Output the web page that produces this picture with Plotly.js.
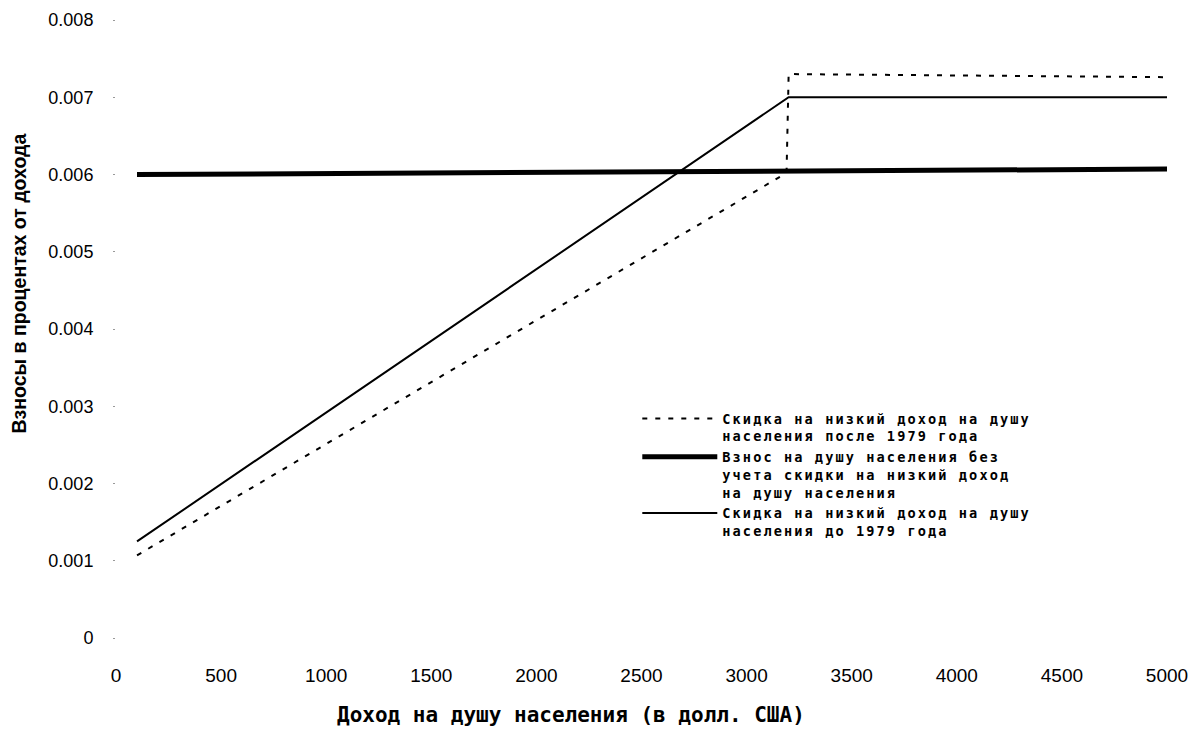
<!DOCTYPE html>
<html><head><meta charset="utf-8">
<script src="https://cdn.plot.ly/plotly-3.0.1.min.js"></script>
<style>
body{margin:0;background:#fff}
#chart{width:1204px;height:744px}
.legendtext{letter-spacing:2.1px}
</style>
</head><body><div id="chart"></div>
<script>
// Data
const incomePost1979 = [100, 3190, 3200, 5000];
const ratePost1979 = [0.00107, 0.00602, 0.0073, 0.00726];
const incomeFlat = [100, 5000];
const rateFlat = [0.0060, 0.00607];
const incomePre1979 = [100, 3200, 5000];
const ratePre1979 = [0.00125, 0.0070, 0.0070];

const yTickValues = [0, 0.001, 0.002, 0.003, 0.004, 0.005, 0.006, 0.007, 0.008];
const yTickLabels = ['0', '0.001', '0.002', '0.003', '0.004', '0.005', '0.006', '0.007', '0.008'];
const xTickValues = [0, 500, 1000, 1500, 2000, 2500, 3000, 3500, 4000, 4500, 5000];
const xTickLabels = ['0', '500', '1000', '1500', '2000', '2500', '3000', '3500', '4000', '4500', '5000'];

const seriesNames = [
  'Скидка на низкий доход на душу<br>населения после 1979 года',
  'Взнос на душу населения без<br>учета скидки на низкий доход<br>на душу населения',
  'Скидка на низкий доход на душу<br>населения до 1979 года'
];
const xTitle = 'Доход на душу населения (в долл. США)';
const yTitle = 'Взносы в процентах от дохода';

const traces = [
  {x: incomePost1979, y: ratePost1979, name: seriesNames[0], mode: 'lines',
   line: {color: '#000', width: 2, dash: '5px,8px'}},
  {x: incomeFlat, y: rateFlat, name: seriesNames[1], mode: 'lines',
   line: {color: '#000', width: 5}},
  {x: incomePre1979, y: ratePre1979, name: seriesNames[2], mode: 'lines',
   line: {color: '#000', width: 2}},
  {x: [0, 5000], y: [0, 0], yaxis: 'y2', mode: 'lines', showlegend: false, hoverinfo: 'skip',
   line: {color: 'rgba(0,0,0,0)', width: 0}}
];

const layout = {
  width: 1204, height: 744,
  margin: {l: 116, r: 37, t: 20, b: 106},
  paper_bgcolor: '#fff', plot_bgcolor: '#fff',
  font: {family: 'Liberation Sans, Arial, sans-serif', color: '#000'},
  xaxis: {
    range: [0, 5000], tickvals: xTickValues, ticktext: xTickLabels,
    showgrid: false, zeroline: false, showline: false,
    ticks: 'outside', ticklen: 20, tickcolor: 'rgba(0,0,0,0)',
    tickfont: {size: 19, family: 'Liberation Sans, Arial, sans-serif'}
  },
  yaxis: {
    range: [0, 0.008], tickvals: yTickValues, ticktext: yTickLabels,
    showgrid: false, zeroline: false, showline: false,
    ticks: 'outside', ticklen: 2, tickcolor: '#999', tickwidth: 1,
    ticklabelstandoff: 16,
    tickfont: {size: 18, family: 'Liberation Sans, Arial, sans-serif'}
  },
  yaxis2: {
    overlaying: 'y', range: [0, 0.008], tickvals: [0, 0.008], showticklabels: false,
    showgrid: true, gridcolor: '#bbb', griddash: 'dot', gridwidth: 1, zeroline: false
  },
  showlegend: true,
  legend: {
    x: 0.496, y: 0.38, xanchor: 'left', yanchor: 'top',
    bgcolor: 'rgba(255,255,255,0)', borderwidth: 0,
    valign: 'top', tracegroupgap: 0, itemwidth: 75,
    font: {family: 'DejaVu Sans Mono, monospace', size: 13.6, weight: 'bold', color: '#000'}
  },
  annotations: [
    {text: xTitle, xref: 'paper', yref: 'paper', x: 0.433, y: -0.125, xanchor: 'center', yanchor: 'middle',
     showarrow: false, font: {family: 'DejaVu Sans Mono, monospace', size: 21, weight: 'bold'}},
    {text: yTitle, xref: 'paper', yref: 'paper', x: -0.092, y: 0.574, xanchor: 'center', yanchor: 'middle',
     textangle: -90, showarrow: false, font: {family: 'Liberation Sans, Arial, sans-serif', size: 19.5, weight: 'bold'}}
  ]
};

Plotly.newPlot('chart', traces, layout, {displayModeBar: false, staticPlot: true});
</script>
</body></html>
